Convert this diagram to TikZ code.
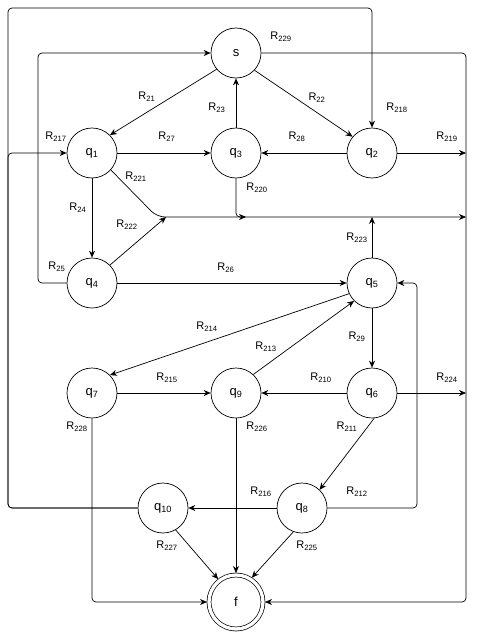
\documentclass[tikz,border=0pt]{standalone}
\usepackage{fontspec}
\setmainfont{Liberation Sans}
\usetikzlibrary{arrows.meta}

\begin{document}
\begin{tikzpicture}[x=1pt, y=-1pt,
    state/.style={circle, draw, line width=0.7pt, minimum size=50pt,
                  inner sep=0pt, font=\fontsize{13}{15}\selectfont},
    final/.style={state, double, double distance=3.3pt, minimum size=54pt,
                  outer sep=2pt},
    trans/.style={-{Stealth[length=7pt,width=6pt]}, line width=0.7pt},
    route/.style={trans, rounded corners=4pt},
    rlabel/.style={font=\fontsize{11}{13}\selectfont, inner sep=0pt},
]
\useasboundingbox (0,0) rectangle (477,634);

% ======================================================
% States
% ======================================================
\node[state] (s)   at (236, 53) {s};
\node[state] (q1)  at ( 92,153) {q\textsubscript{1}};
\node[state] (q3)  at (236,153) {q\textsubscript{3}};
\node[state] (q2)  at (372,153) {q\textsubscript{2}};
\node[state] (q4)  at ( 92,283) {q\textsubscript{4}};
\node[state] (q5)  at (372,283) {q\textsubscript{5}};
\node[state] (q7)  at ( 92,393) {q\textsubscript{7}};
\node[state] (q9)  at (236,393) {q\textsubscript{9}};
\node[state] (q6)  at (372,393) {q\textsubscript{6}};
\node[state] (q10) at (163,508) {q\textsubscript{10}};
\node[state] (q8)  at (302,508) {q\textsubscript{8}};
\node[final] (f)   at (236,602) {f};

% routing points
\coordinate (lt)   at (  8,  8);
\coordinate (lx)   at (  8,153);
\coordinate (lm)   at ( 38, 53);
\coordinate (rb)   at (466,602);
\coordinate (rm)   at (417,283);
\coordinate (j219) at (466,153);
\coordinate (j224) at (466,393);
% the line at y=217 into the right border
\coordinate (b0)   at (157,217);
\coordinate (be)   at (466,217);
\coordinate (b220) at (246,217);
\coordinate (b222) at (166,217);
\coordinate (b223) at (372,217);

% ======================================================
% Direct transitions
% ======================================================
\draw[trans] (s.220) -- (q1.45);
\draw[trans] (s.-43) -- (q2.140);
\draw[trans] (q3) -- (s);
\draw[trans] (q1) -- (q3);
\draw[trans] (q2) -- (q3);
\draw[trans] (q1) -- (q4);
\draw[trans] (q4) -- (q5);
\draw[trans] (q5.205) -- (q7.45);
\draw[trans] (q9.47) -- (q5.225);
\draw[trans] (q5) -- (q6);
\draw[trans] (q7) -- (q9);
\draw[trans] (q6) -- (q9);
\draw[trans] (q6.-85) -- (q8.46);
\draw[trans] (q8) -- (q10);
\draw[trans] (q10.-60) -- (f.128);
\draw[trans] (q8.-110) -- (f.57);
\draw[trans] (q9) -- (f);

% ======================================================
% Routed transitions
% ======================================================
\draw[route] (q10.west) -| (lt) -| (q2.north);
\draw[route] (q10.west) -| (lx) -- (q1.west);
\draw[route] (q4.west) -| (lm) -- (s.west);
\draw[route] (s.east) -| (rb) -- (f.east);
\draw[route] (q7.south) |- (f.west);
\draw[route] (q8.east) -| (rm) -- (q5.east);
\draw[trans] (q2.east) -- (j219);
\draw[trans] (q6.east) -- (j224);

\draw[trans, rounded corners=8pt] (q1.-42) -- (b0) -- (be);
\draw[route] (q3.south) |- (b220);
\draw[trans] (q4.45) -- (b222);
\draw[trans] (q5) -- (b223);

% ======================================================
% Rule labels
% ======================================================
\foreach \n/\x/\y in {229/281/37, 21/147/97, 23/217/108, 22/317/98,
    218/397/108, 217/56/137, 27/167/137, 28/297/137, 219/447/137,
    221/136/177, 220/257/188, 24/78/208, 222/127/225, 25/57/267,
    26/226/268, 223/357/238, 214/207/327, 213/266/347, 29/357/337,
    215/167/378, 210/321/378, 224/447/378, 228/77/427, 226/257/427,
    211/347/427, 216/261/492, 212/357/492, 227/167/546, 225/307/546} {
  \node[rlabel] (r\n) at (\x,\y) {R\textsubscript{\n}};
}

\end{tikzpicture}
\end{document}
